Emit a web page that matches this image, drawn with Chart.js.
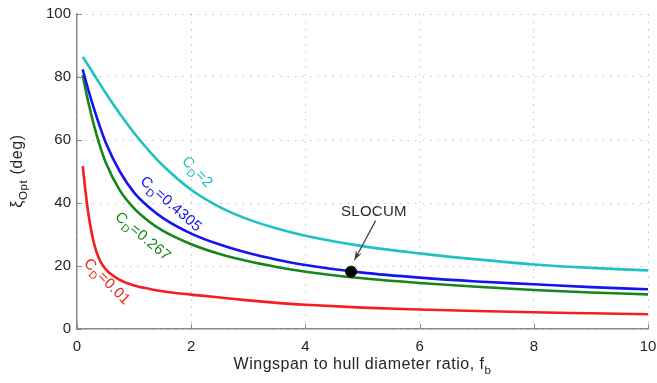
<!DOCTYPE html>
<html>
<head>
<meta charset="utf-8">
<script src="https://cdn.jsdelivr.net/npm/chart.js@4.4.1/dist/chart.umd.min.js"></script>
<style>
  html, body { margin: 0; padding: 0; background: #fff; }
  #wrap { width: 657px; height: 383px; position: relative; }
</style>
</head>
<body>
<div id="wrap"><canvas id="chart"></canvas></div>
<script>
// wingspan to hull diameter ratio f_b (sample points)
const fb = [0.1, 0.15, 0.2, 0.3, 0.4, 0.5, 0.75, 1, 1.25, 1.5, 2, 2.5, 3, 3.5, 4, 5, 6, 7, 8, 9, 10];

// optimal glide angle xi_Opt (deg)
const xiCd2     = [86.4, 85.0, 83.6, 80.7, 77.8, 75.0, 68.3, 62.2, 56.8, 52.0, 44.2, 38.7, 34.8, 31.9, 29.6, 26.3, 24.0, 22.1, 20.5, 19.4, 18.6];
const xiCd04305 = [82.4, 79.0, 75.8, 69.8, 64.3, 59.3, 50.0, 43.3, 38.8, 35.3, 30.3, 26.8, 24.1, 22.0, 20.3, 17.9, 16.3, 15.1, 14.2, 13.3, 12.6];
const xiCd0267  = [80.6, 76.0, 71.8, 64.5, 58.2, 53.0, 44.0, 38.3, 34.3, 31.2, 26.9, 23.8, 21.5, 19.7, 18.2, 16.1, 14.6, 13.4, 12.4, 11.6, 11.0];
const xiCd001   = [51.7, 43.5, 36.5, 27.0, 21.8, 19.0, 15.6, 13.8, 12.8, 12.0, 10.9, 10.0, 9.1, 8.3, 7.7, 6.8, 6.2, 5.7, 5.3, 5.0, 4.7];

// Slocum glider operating point
const slocumFb = [4.8];
const slocumXi = [18.2];

const xTicks = [0, 2, 4, 6, 8, 10];
const yTicks = [0, 20, 40, 60, 80, 100];

const FONT = '"Liberation Sans", Arial, Helvetica, sans-serif';
const CYAN = '#1fc2c2', BLUE = '#1414ee', GREEN = '#16861a', RED = '#f51d1d';

const toPts = ys => fb.map((x, i) => ({ x, y: ys[i] }));

function curve(label, ys, color) {
    return {
        label, data: toPts(ys), borderColor: color, backgroundColor: color,
        borderWidth: 2.6, pointRadius: 0, fill: false, showLine: true,
        cubicInterpolationMode: 'monotone'
    };
}

// in-plot annotations (data coords for anchors)
const curveLabels = [
    { rest: '=2',      x: 1.88, y: 54.0, angle: 46, color: CYAN },
    { rest: '=0.4305', x: 1.14, y: 47.5, angle: 41, color: BLUE },
    { rest: '=0.267',  x: 0.70, y: 36.2, angle: 40, color: GREEN },
    { rest: '=0.01',   x: 0.16, y: 21.6, angle: 45, color: RED }
];
const slocumNote = { text: 'SLOCUM', x: 5.2, y: 37.2, from: [5.23, 34.4], to: [4.86, 21.9] };

// draw a run of [text, isSub] pieces starting at (0,0), baseline middle
function drawRuns(ctx, runs, size, color, spacing) {
    let x = 0;
    ctx.fillStyle = color;
    ctx.textBaseline = 'middle';
    ctx.textAlign = 'left';
    ctx.letterSpacing = (spacing || 0) + 'px';
    runs.forEach(([t, sub]) => {
        ctx.font = (sub ? size * 0.72 : size) + 'px ' + FONT;
        ctx.fillText(t, x, sub ? size * 0.38 : 0);
        x += ctx.measureText(t).width;
    });
    return x;
}
function runsWidth(ctx, runs, size, spacing) {
    let w = 0;
    ctx.letterSpacing = (spacing || 0) + 'px';
    runs.forEach(([t, sub]) => {
        ctx.font = (sub ? size * 0.72 : size) + 'px ' + FONT;
        w += ctx.measureText(t).width;
    });
    return w;
}

const annotate = {
    id: 'annotate',
    afterDatasetsDraw(chart) {
        const { ctx, scales: { x, y }, chartArea: ca } = chart;

        // inward tick marks (matlab style)
        ctx.save();
        ctx.strokeStyle = '#888';
        ctx.lineWidth = 1;
        xTicks.forEach(v => {
            const px = Math.round(x.getPixelForValue(v)) + 0.5;
            ctx.beginPath(); ctx.moveTo(px, ca.bottom); ctx.lineTo(px, ca.bottom - 5); ctx.stroke();
        });
        yTicks.forEach(v => {
            const py = Math.round(y.getPixelForValue(v)) + 0.5;
            ctx.beginPath(); ctx.moveTo(ca.left, py); ctx.lineTo(ca.left + 5, py); ctx.stroke();
        });
        ctx.restore();

        // curve labels
        curveLabels.forEach(l => {
            ctx.save();
            ctx.translate(x.getPixelForValue(l.x), y.getPixelForValue(l.y));
            ctx.rotate(l.angle * Math.PI / 180);
            drawRuns(ctx, [['C', false], ['D', true], [l.rest, false]], 15, l.color, 0.3);
            ctx.restore();
        });

        // SLOCUM text + arrow
        ctx.save();
        ctx.font = '15px ' + FONT;
        ctx.letterSpacing = '0.3px';
        ctx.fillStyle = '#2a2a2a';
        ctx.textAlign = 'center';
        ctx.textBaseline = 'middle';
        ctx.fillText(slocumNote.text, x.getPixelForValue(slocumNote.x), y.getPixelForValue(slocumNote.y));
        const x1 = x.getPixelForValue(slocumNote.from[0]), y1 = y.getPixelForValue(slocumNote.from[1]);
        const x2 = x.getPixelForValue(slocumNote.to[0]), y2 = y.getPixelForValue(slocumNote.to[1]);
        ctx.strokeStyle = '#3a3a3a';
        ctx.lineWidth = 1.2;
        ctx.beginPath(); ctx.moveTo(x1, y1); ctx.lineTo(x2, y2); ctx.stroke();
        const a = Math.atan2(y2 - y1, x2 - x1), hl = 10, hw = 0.35;
        ctx.fillStyle = '#3a3a3a';
        ctx.beginPath();
        ctx.moveTo(x2, y2);
        ctx.lineTo(x2 - hl * Math.cos(a - hw), y2 - hl * Math.sin(a - hw));
        ctx.lineTo(x2 - hl * 0.6 * Math.cos(a), y2 - hl * 0.6 * Math.sin(a));
        ctx.lineTo(x2 - hl * Math.cos(a + hw), y2 - hl * Math.sin(a + hw));
        ctx.closePath();
        ctx.fill();
        ctx.restore();

        // axis titles
        ctx.save();
        const xt = [['Wingspan to hull diameter ratio, f', false], ['b', true]];
        const wx = runsWidth(ctx, xt, 16, 0.5);
        ctx.translate((ca.left + ca.right) / 2 - wx / 2, 365);
        drawRuns(ctx, xt, 16, '#262626', 0.5);
        ctx.restore();

        ctx.save();
        const yt = [['\u03BE', false], ['Opt', true], [' (deg)', false]];
        const wy = runsWidth(ctx, yt, 16, 0.6);
        ctx.translate(18, 171 + wy / 2);
        ctx.rotate(-Math.PI / 2);
        drawRuns(ctx, yt, 16, '#262626', 0.6);
        ctx.restore();
    }
};

const zeroPad = s => { s.paddingLeft = 0; s.paddingRight = 0; s.paddingTop = 0; s.paddingBottom = 0; };

new Chart(document.getElementById('chart'), {
    type: 'scatter',
    data: {
        datasets: [
            {
                label: 'SLOCUM', data: slocumFb.map((x, i) => ({ x, y: slocumXi[i] })),
                backgroundColor: '#000', borderColor: '#000', pointRadius: 5.5, showLine: false, order: -1
            },
            curve('CD=2', xiCd2, CYAN),
            curve('CD=0.4305', xiCd04305, BLUE),
            curve('CD=0.267', xiCd0267, GREEN),
            curve('CD=0.01', xiCd001, RED)
        ]
    },
    options: {
        responsive: true,
        maintainAspectRatio: false,
        animation: false,
        layout: { padding: { top: 14, right: 9, left: 0, bottom: 0 } },
        plugins: { legend: { display: false }, tooltip: { enabled: false } },
        scales: {
            x: {
                type: 'linear', min: 0, max: 10,
                afterFit: s => { s.height = 54; zeroPad(s); },
                afterBuildTicks: s => { s.ticks = xTicks.map(v => ({ value: v })); },
                ticks: { padding: 9, color: '#262626', font: { family: FONT, size: 15 }, maxRotation: 0 },
                grid: { color: '#c2c2c2', lineWidth: 1, drawTicks: false },
                border: { display: true, color: '#8a8a8a', width: 1.5, dash: [1.5, 6] }
            },
            y: {
                type: 'linear', min: 0, max: 100,
                afterFit: s => { s.width = 77; zeroPad(s); },
                afterBuildTicks: s => { s.ticks = yTicks.map(v => ({ value: v })); },
                ticks: { padding: 6, color: '#262626', font: { family: FONT, size: 15 } },
                grid: { color: '#c2c2c2', lineWidth: 1, drawTicks: false },
                border: { display: true, color: '#8a8a8a', width: 1.5, dash: [1.5, 6] }
            }
        }
    },
    plugins: [annotate]
});
</script>
</body>
</html>
